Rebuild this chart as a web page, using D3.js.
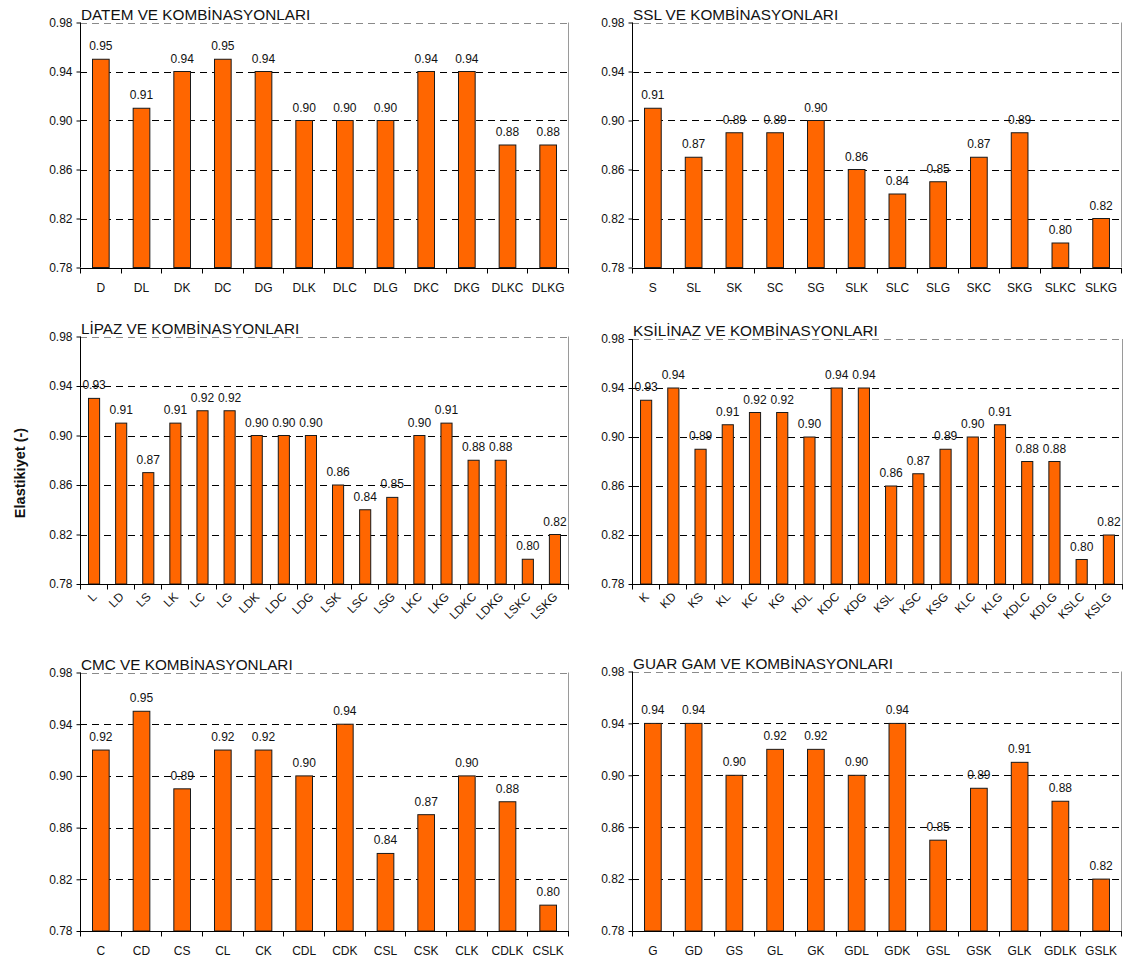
<!DOCTYPE html>
<html>
<head>
<meta charset="utf-8">
<script src="https://cdn.jsdelivr.net/npm/d3@7"></script>
<style>
  html, body { margin: 0; padding: 0; background: #fff; }
  svg { display: block; font-family: "Liberation Sans", Arial, sans-serif; }
</style>
</head>
<body>
<svg id="chart" width="1129" height="958"></svg>
<script>
// Elasticity values per additive group
const yTicks = [0.78, 0.82, 0.86, 0.90, 0.94, 0.98];

const datemTitle = "DATEM VE KOMBİNASYONLARI";
const datemCats = ["D", "DL", "DK", "DC", "DG", "DLK", "DLC", "DLG", "DKC", "DKG", "DLKC", "DLKG"];
const datemVals = [0.95, 0.91, 0.94, 0.95, 0.94, 0.90, 0.90, 0.90, 0.94, 0.94, 0.88, 0.88];

const sslTitle = "SSL VE KOMBİNASYONLARI";
const sslCats = ["S", "SL", "SK", "SC", "SG", "SLK", "SLC", "SLG", "SKC", "SKG", "SLKC", "SLKG"];
const sslVals = [0.91, 0.87, 0.89, 0.89, 0.90, 0.86, 0.84, 0.85, 0.87, 0.89, 0.80, 0.82];

const lipazTitle = "LİPAZ VE KOMBİNASYONLARI";
const lipazCats = ["L", "LD", "LS", "LK", "LC", "LG", "LDK", "LDC", "LDG", "LSK", "LSC", "LSG", "LKC", "LKG", "LDKC", "LDKG", "LSKC", "LSKG"];
const lipazVals = [0.93, 0.91, 0.87, 0.91, 0.92, 0.92, 0.90, 0.90, 0.90, 0.86, 0.84, 0.85, 0.90, 0.91, 0.88, 0.88, 0.80, 0.82];

const ksilinazTitle = "KSİLİNAZ VE KOMBİNASYONLARI";
const ksilinazCats = ["K", "KD", "KS", "KL", "KC", "KG", "KDL", "KDC", "KDG", "KSL", "KSC", "KSG", "KLC", "KLG", "KDLC", "KDLG", "KSLC", "KSLG"];
const ksilinazVals = [0.93, 0.94, 0.89, 0.91, 0.92, 0.92, 0.90, 0.94, 0.94, 0.86, 0.87, 0.89, 0.90, 0.91, 0.88, 0.88, 0.80, 0.82];

const cmcTitle = "CMC VE KOMBİNASYONLARI";
const cmcCats = ["C", "CD", "CS", "CL", "CK", "CDL", "CDK", "CSL", "CSK", "CLK", "CDLK", "CSLK"];
const cmcVals = [0.92, 0.95, 0.89, 0.92, 0.92, 0.90, 0.94, 0.84, 0.87, 0.90, 0.88, 0.80];

const guarTitle = "GUAR GAM VE KOMBİNASYONLARI";
const guarCats = ["G", "GD", "GS", "GL", "GK", "GDL", "GDK", "GSL", "GSK", "GLK", "GDLK", "GSLK"];
const guarVals = [0.94, 0.94, 0.90, 0.92, 0.92, 0.90, 0.94, 0.85, 0.89, 0.91, 0.88, 0.82];

const yAxisTitle = "Elastikiyet (-)";

// Panel frames (plot-area edges) and label style
const panels = [
  { title: datemTitle,    cats: datemCats,    vals: datemVals,    left: 80,  right: 568,  top: 22.5,  bottom: 267.5, rotate: false },
  { title: sslTitle,      cats: sslCats,      vals: sslVals,      left: 632, right: 1121, top: 22.5,  bottom: 267.5, rotate: false },
  { title: lipazTitle,    cats: lipazCats,    vals: lipazVals,    left: 80,  right: 568,  top: 336.5, bottom: 584,   rotate: true },
  { title: ksilinazTitle, cats: ksilinazCats, vals: ksilinazVals, left: 632, right: 1122, top: 339,   bottom: 584,   rotate: true },
  { title: cmcTitle,      cats: cmcCats,      vals: cmcVals,      left: 80,  right: 568,  top: 672.5, bottom: 931,   rotate: false },
  { title: guarTitle,     cats: guarCats,     vals: guarVals,     left: 632, right: 1121, top: 671.5, bottom: 931,   rotate: false }
];

const svg = d3.select("#chart");
const fmt = d3.format(".2f");

function drawPanel(p) {
  const g = svg.append("g");
  const x = d3.scaleBand().domain(p.cats).range([p.left, p.right])
    .paddingInner(0.59).paddingOuter(0.295);
  const y = d3.scaleLinear().domain([yTicks[0], yTicks[yTicks.length - 1]]).range([p.bottom, p.top]);

  // plot-area frame (right edge)
  g.append("line")
    .attr("x1", p.right + 0.5).attr("x2", p.right + 0.5)
    .attr("y1", p.top).attr("y2", p.bottom)
    .attr("stroke", "#9a9a9a").attr("stroke-width", 1);

  // dashed horizontal gridlines
  g.selectAll("line.grid").data(yTicks.slice(1)).enter().append("line")
    .attr("class", "grid")
    .attr("x1", p.left).attr("x2", p.right)
    .attr("y1", d => Math.round(y(d)) + 0.5).attr("y2", d => Math.round(y(d)) + 0.5)
    .attr("stroke", (d, i) => i === yTicks.length - 2 ? "#8a8a8a" : "#000")
    .attr("stroke-width", 1)
    .attr("stroke-dasharray", "7,5");

  // bars
  g.selectAll("rect.bar").data(p.vals).enter().append("rect")
    .attr("class", "bar")
    .attr("x", (d, i) => x(p.cats[i]) + 0.5)
    .attr("width", x.bandwidth())
    .attr("y", d => y(d))
    .attr("height", d => p.bottom - y(d))
    .attr("fill", "#FF6600")
    .attr("stroke", "#1a1a1a")
    .attr("stroke-width", 1);

  // value labels
  g.selectAll("text.val").data(p.vals).enter().append("text")
    .attr("class", "val")
    .attr("x", (d, i) => x(p.cats[i]) + x.bandwidth() / 2 + 0.5)
    .attr("y", d => y(d) - 9)
    .attr("text-anchor", "middle")
    .attr("font-size", 12)
    .attr("fill", "#111")
    .text(d => fmt(d));

  // y axis
  const ya = g.append("g").attr("transform", `translate(${p.left + 0.5},0)`)
    .call(d3.axisLeft(y).tickValues(yTicks).tickFormat(fmt).tickSize(4).tickPadding(4));
  ya.selectAll("text").attr("font-size", 12).attr("fill", "#111").attr("font-family", "Liberation Sans, Arial, sans-serif");
  ya.selectAll("line, path").attr("stroke", "#000");
  ya.select(".domain").attr("d", `M0,${p.top}V${p.bottom}`);

  // x axis with ticks on category boundaries
  const xa = g.append("g").attr("transform", `translate(0,${Math.round(p.bottom) + 0.5})`);
  xa.append("line").attr("x1", p.left).attr("x2", p.right + 1).attr("stroke", "#000");
  const bounds = d3.range(p.cats.length + 1).map(i => p.left + i * x.step());
  xa.selectAll("line.tk").data(bounds).enter().append("line")
    .attr("class", "tk")
    .attr("x1", d => Math.round(d) + 0.5).attr("x2", d => Math.round(d) + 0.5)
    .attr("y1", 0).attr("y2", 5).attr("stroke", "#000");

  const labels = xa.selectAll("text.cat").data(p.cats).enter().append("text")
    .attr("class", "cat")
    .attr("font-size", 12)
    .attr("fill", "#111")
    .text(d => d);
  if (p.rotate) {
    labels
      .attr("text-anchor", "end")
      .attr("dy", "0.35em")
      .attr("transform", d => `translate(${x(d) + x.bandwidth() / 2 + 1},10) rotate(-45)`);
  } else {
    labels
      .attr("text-anchor", "middle")
      .attr("x", d => x(d) + x.bandwidth() / 2 + 0.5)
      .attr("y", 23);
  }

  // panel title
  g.append("text")
    .attr("x", p.left + 1)
    .attr("y", p.top - 3)
    .attr("font-size", 15.3)
    .attr("fill", "#111")
    .text(p.title);
}

panels.forEach(drawPanel);

// shared y-axis title
svg.append("text")
  .attr("transform", "translate(25,473) rotate(-90)")
  .attr("text-anchor", "middle")
  .attr("font-size", 14.5)
  .attr("font-weight", "bold")
  .attr("fill", "#111")
  .text(yAxisTitle);
</script>
</body>
</html>
